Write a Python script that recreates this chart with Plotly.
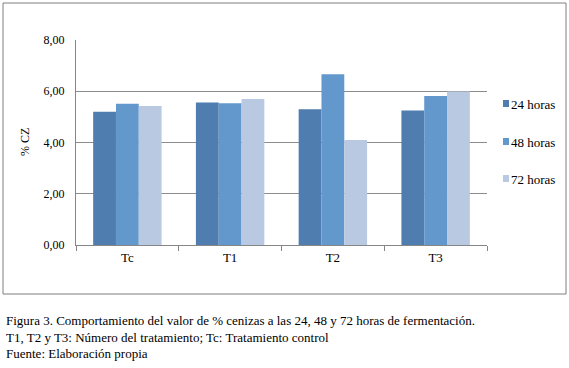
import plotly.graph_objects as go

categories = ["Tc", "T1", "T2", "T3"]
series_names = ["24 horas", "48 horas", "72 horas"]
v24 = [5.20, 5.56, 5.30, 5.25]
v48 = [5.51, 5.53, 6.66, 5.81]
v72 = [5.42, 5.70, 4.10, 5.99]
colors = ["#4F7DB0", "#6398CD", "#B9C9E1"]
y_ticks = [0, 2, 4, 6, 8]

W, H = 569, 368
L, R, T, B = 76, 487, 40, 245  # plot area in px

def px_x(p):
    return (p - L) / (R - L)

def px_y(p):
    return (B - p) / (B - T)

fig = go.Figure()
for name, vals, c in zip(series_names, [v24, v48, v72], colors):
    fig.add_trace(go.Bar(x=categories, y=vals, name=name, marker_color=c,
                         marker_line_width=0, showlegend=False, hoverinfo="skip"))

serif = "Liberation Serif, DejaVu Serif, serif"
shapes = [dict(type="rect", xref="paper", yref="paper",
               x0=px_x(3), x1=px_x(566), y0=px_y(294), y1=px_y(3),
               line=dict(color="#7F7F7F", width=1), layer="below")]
annotations = []
leg_y = [104, 142, 179]
for name, c, yy in zip(series_names, colors, leg_y):
    shapes.append(dict(type="rect", xref="paper", yref="paper",
                       x0=px_x(503), x1=px_x(509), y0=px_y(yy + 3), y1=px_y(yy - 4),
                       fillcolor=c, line=dict(width=0)))
    annotations.append(dict(text=name, xref="paper", yref="paper", x=px_x(509), y=px_y(yy),
                            xanchor="left", yanchor="middle", showarrow=False,
                            font=dict(family=serif, size=13, color="#000000")))

annotations.append(dict(text="% CZ", xref="paper", yref="paper", x=px_x(25), y=px_y(142),
                        xanchor="center", yanchor="middle", textangle=-90, showarrow=False,
                        font=dict(family=serif, size=12, color="#000000")))

captions = ["Figura 3. Comportamiento del valor de % cenizas a las 24, 48 y 72 horas de fermentación.",
            "T1, T2 y T3: Número del tratamiento; Tc: Tratamiento control",
            "Fuente: Elaboración propia"]
for txt, yy in zip(captions, [320, 337, 353]):
    annotations.append(dict(text=txt, xref="paper", yref="paper", x=px_x(4), y=px_y(yy),
                            xanchor="left", yanchor="middle", showarrow=False,
                            font=dict(family=serif, size=13, color="#000000")))

fig.update_layout(
    width=W, height=H,
    margin=dict(l=L, r=W - R, t=T, b=H - B, autoexpand=False),
    paper_bgcolor="white", plot_bgcolor="white",
    barmode="group", bargap=0.334, bargroupgap=0,
    separators=",.",
    font=dict(family=serif, size=12, color="#000000"),
    shapes=shapes, annotations=annotations,
    xaxis=dict(showline=True, linecolor="#868686", linewidth=1,
               ticks="outside", ticklen=5, tickcolor="#868686", tickson="boundaries",
               tickfont=dict(family=serif, size=13, color="#000000"),
               showgrid=False, fixedrange=True),
    yaxis=dict(range=[0, 8], tickvals=y_ticks, tickformat=".2f",
               showline=True, linecolor="#868686", linewidth=1,
               showgrid=True, gridcolor="#8C8C8C", gridwidth=1, zeroline=False,
               tickfont=dict(family=serif, size=12, color="#000000"),
               ticklabelstandoff=8, fixedrange=True),
)

fig.write_html("out.html", config={"displayModeBar": False},
               post_script="document.body.style.margin='0';")
